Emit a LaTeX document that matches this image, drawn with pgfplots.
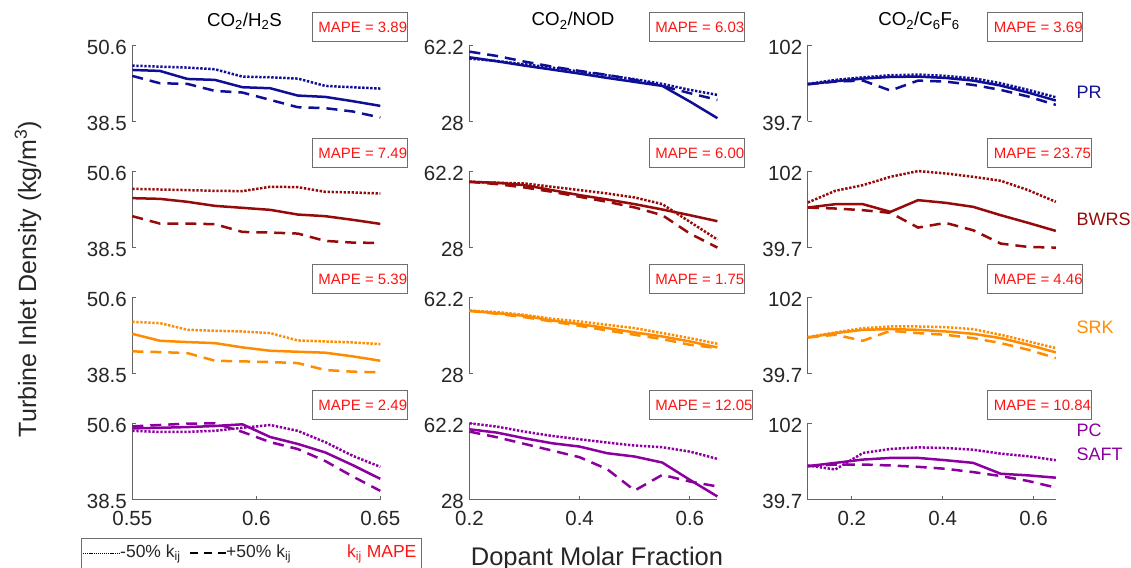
\documentclass[border=0pt]{standalone}
\usepackage{pgfplots}
\pgfplotsset{compat=1.18}
\usepackage{fontspec}
\setmainfont{Liberation Sans}
\definecolor{cPR}{RGB}{15,15,150}
\definecolor{cBW}{RGB}{150,10,10}
\definecolor{cSRK}{RGB}{255,140,0}
\definecolor{cPC}{RGB}{140,0,160}
\definecolor{axgray}{RGB}{100,100,100}
\definecolor{tickgray}{RGB}{38,38,38}
\definecolor{boxgray}{RGB}{110,110,110}
\definecolor{mred}{RGB}{255,20,20}
\pgfplotsset{
 panel/.style={scale only axis, width=248pt, height=76.5pt, anchor=south west, clip=false,
   axis y line*=left, axis line style={draw=axgray, line width=0.8pt},
   tick align=inside, major tick length=4pt, tick style={draw=axgray, line width=0.8pt},
   ticklabel style={font=\fontsize{20.5}{22}\selectfont, text=tickgray},
   yticklabel style={xshift=-2pt, yshift=-2pt}},
 hidex/.style={axis x line=none},
 showx/.style={axis x line*=bottom, xticklabel style={yshift=-8pt}},
 c1/.style={xmin=0.55,xmax=0.65, ymin=38.5,ymax=50.6, ytick={38.5,50.6}, yticklabels={38.5,50.6}, xtick={0.55,0.6,0.65}, xticklabels={0.55,0.6,0.65}},
 c2/.style={xmin=0.2,xmax=0.65, ymin=28,ymax=62.2, ytick={28,62.2}, yticklabels={28,62.2}, xtick={0.2,0.4,0.6}, xticklabels={0.2,0.4,0.6}},
 c3/.style={xmin=0.103,xmax=0.649, ymin=39.7,ymax=102, ytick={39.7,102}, yticklabels={39.7,102}, xtick={0.2,0.4,0.6}, xticklabels={0.2,0.4,0.6}},
 sol/.style={line width=2.5pt, no marks},
 dot/.style={line width=2.5pt, no marks, dash pattern=on 2.4pt off 1.6pt},
 dsh/.style={line width=2.5pt, no marks, dash pattern=on 11pt off 7pt},
}
\newcommand{\mape}[1]{\node[anchor=south west, draw=boxgray, line width=1pt, minimum height=29pt, inner xsep=0pt, inner ysep=0pt, text=mred, font=\fontsize{15}{15}\selectfont] at (rel axis cs:0.724,1.039) {\hspace{6pt}MAPE = #1\hspace{17pt}};}
\begin{document}
\begin{tikzpicture}[x=1pt,y=1pt]
\useasboundingbox (0,0) rectangle (1131,567);
% ---------- Column 1: CO2/H2S ----------
\begin{axis}[panel,c1,hidex,at={(132.3pt,445.5pt)}]
\addplot[cPR,sol] coordinates {(0.55,46.65)(0.5611,46.5)(0.5722,45.23)(0.5833,45.08)(0.5944,43.92)(0.6056,43.76)(0.6167,42.6)(0.6278,42.39)(0.6389,41.71)(0.65,40.97)};
\addplot[cPR,dot] coordinates {(0.55,47.34)(0.5611,47.18)(0.5722,47.03)(0.5833,46.76)(0.5944,45.6)(0.6056,45.5)(0.6167,45.29)(0.6278,44.13)(0.6389,43.92)(0.65,43.71)};
\addplot[cPR,dsh] coordinates {(0.55,45.71)(0.5611,44.55)(0.5722,44.45)(0.5833,43.34)(0.5944,43.08)(0.6056,41.92)(0.6167,40.76)(0.6278,40.61)(0.6389,40.08)(0.65,39.13)};
\mape{3.89}
\end{axis}
\begin{axis}[panel,c1,hidex,at={(132.3pt,319.4pt)}]
\addplot[cBW,sol] coordinates {(0.55,46.32)(0.5611,46.21)(0.5722,45.74)(0.5833,45.1)(0.5944,44.79)(0.6056,44.47)(0.6167,43.73)(0.6278,43.47)(0.6389,42.89)(0.65,42.25)};
\addplot[cBW,dot] coordinates {(0.55,47.8)(0.5611,47.69)(0.5722,47.59)(0.5833,47.48)(0.5944,47.43)(0.6056,48.12)(0.6167,48.06)(0.6278,47.32)(0.6389,47.22)(0.65,47.06)};
\addplot[cBW,dsh] coordinates {(0.55,43.47)(0.5611,42.3)(0.5722,42.3)(0.5833,42.2)(0.5944,40.98)(0.6056,40.88)(0.6167,40.72)(0.6278,39.56)(0.6389,39.29)(0.65,39.24)};
\mape{7.49}
\end{axis}
\begin{axis}[panel,c1,hidex,at={(132.3pt,193.3pt)}]
\addplot[cSRK,sol] coordinates {(0.55,44.81)(0.5611,43.71)(0.5722,43.5)(0.5833,43.34)(0.5944,42.66)(0.6056,42.13)(0.6167,41.97)(0.6278,41.82)(0.6389,41.24)(0.65,40.55)};
\addplot[cSRK,dot] coordinates {(0.55,46.71)(0.5611,46.5)(0.5722,45.45)(0.5833,45.29)(0.5944,45.18)(0.6056,44.92)(0.6167,43.76)(0.6278,43.6)(0.6389,43.45)(0.65,43.18)};
\addplot[cSRK,dsh] coordinates {(0.55,42.03)(0.5611,41.92)(0.5722,41.76)(0.5833,40.55)(0.5944,40.45)(0.6056,40.34)(0.6167,40.18)(0.6278,39.08)(0.6389,38.82)(0.65,38.71)};
\mape{5.39}
\end{axis}
\begin{axis}[panel,c1,showx,at={(132.3pt,67.2pt)}]
\addplot[cPC,sol] coordinates {(0.55,49.79)(0.5611,49.89)(0.5722,50.0)(0.5833,50.17)(0.5944,50.44)(0.6056,48.43)(0.6167,47.34)(0.6278,45.99)(0.6389,43.98)(0.65,41.81)};
\addplot[cPC,dot] coordinates {(0.55,49.41)(0.5611,49.24)(0.5722,49.24)(0.5833,49.41)(0.5944,49.89)(0.6056,50.33)(0.6167,49.41)(0.6278,47.62)(0.6389,45.45)(0.65,43.71)};
\addplot[cPC,dsh] coordinates {(0.55,50.11)(0.5611,50.33)(0.5722,50.55)(0.5833,50.6)(0.5944,49.24)(0.6056,47.62)(0.6167,46.53)(0.6278,44.63)(0.6389,42.19)(0.65,39.91)};
\mape{2.49}
\end{axis}
% ---------- Column 2: CO2/NOD ----------
\begin{axis}[panel,c2,hidex,at={(469.4pt,445.5pt)}]
\addplot[cPR,sol] coordinates {(0.2,56.7)(0.25,54.91)(0.3,52.98)(0.35,51.2)(0.4,49.41)(0.45,47.48)(0.5,45.69)(0.55,43.91)(0.6,36.92)(0.65,29.49)};
\addplot[cPR,dot] coordinates {(0.2,56.1)(0.25,55.06)(0.3,53.58)(0.35,52.09)(0.4,50.3)(0.45,48.67)(0.5,46.88)(0.55,44.8)(0.6,42.13)(0.65,39.9)};
\addplot[cPR,dsh] coordinates {(0.2,59.23)(0.25,57.29)(0.3,54.77)(0.35,52.53)(0.4,50.6)(0.45,48.82)(0.5,46.59)(0.55,43.91)(0.6,40.64)(0.65,37.67)};
\mape{6.03}
\end{axis}
\begin{axis}[panel,c2,hidex,at={(469.4pt,319.4pt)}]
\addplot[cBW,sol] coordinates {(0.2,57.42)(0.25,56.97)(0.3,55.93)(0.35,53.69)(0.4,51.45)(0.45,49.51)(0.5,47.42)(0.55,45.03)(0.6,42.49)(0.65,39.8)};
\addplot[cBW,dot] coordinates {(0.2,57.42)(0.25,56.97)(0.3,56.68)(0.35,55.18)(0.4,53.69)(0.45,52.2)(0.5,50.41)(0.55,47.42)(0.6,39.51)(0.65,31.59)};
\addplot[cBW,dsh] coordinates {(0.2,57.42)(0.25,56.38)(0.3,54.88)(0.35,52.94)(0.4,50.7)(0.45,48.46)(0.5,45.93)(0.55,42.49)(0.6,34.28)(0.65,28.0)};
\mape{6.00}
\end{axis}
\begin{axis}[panel,c2,hidex,at={(469.4pt,193.3pt)}]
\addplot[cSRK,sol] coordinates {(0.2,56.1)(0.25,55.06)(0.3,53.87)(0.35,51.79)(0.4,50.16)(0.45,48.37)(0.5,46.44)(0.55,44.65)(0.6,42.42)(0.65,39.75)};
\addplot[cSRK,dot] coordinates {(0.2,56.25)(0.25,55.51)(0.3,54.32)(0.35,52.53)(0.4,51.35)(0.45,49.86)(0.5,48.37)(0.55,46.14)(0.6,43.91)(0.65,41.38)};
\addplot[cSRK,dsh] coordinates {(0.2,56.1)(0.25,54.77)(0.3,53.28)(0.35,51.35)(0.4,49.41)(0.45,47.33)(0.5,45.4)(0.55,43.46)(0.6,40.94)(0.65,39.45)};
\mape{1.75}
\end{axis}
\begin{axis}[panel,c2,showx,at={(469.4pt,67.2pt)}]
\addplot[cPC,sol] coordinates {(0.2,59.52)(0.25,58.04)(0.3,55.51)(0.35,53.28)(0.4,51.79)(0.45,48.82)(0.5,47.33)(0.55,44.65)(0.6,36.92)(0.65,29.49)};
\addplot[cPC,dot] coordinates {(0.2,62.2)(0.25,60.71)(0.3,58.48)(0.35,56.55)(0.4,55.06)(0.45,53.58)(0.5,52.24)(0.55,51.49)(0.6,49.56)(0.65,46.29)};
\addplot[cPC,dsh] coordinates {(0.2,58.48)(0.25,55.95)(0.3,52.98)(0.35,50.01)(0.4,47.03)(0.45,41.68)(0.5,32.16)(0.55,39.15)(0.6,36.17)(0.65,33.95)};
\mape{12.05}
\end{axis}
% ---------- Column 3: CO2/C6F6 ----------
\begin{axis}[panel,c3,hidex,at={(807.8pt,445.5pt)}]
\addplot[cPR,sol] coordinates {(0.103,70.03)(0.1637,72.47)(0.2243,74.64)(0.285,75.99)(0.3457,76.26)(0.4063,75.18)(0.467,73.01)(0.5277,68.95)(0.5883,63.26)(0.649,56.76)};
\addplot[cPR,dot] coordinates {(0.103,70.3)(0.1637,73.56)(0.2243,75.72)(0.285,77.35)(0.3457,77.89)(0.4063,76.81)(0.467,74.91)(0.5277,70.85)(0.5883,65.43)(0.649,59.47)};
\addplot[cPR,dsh] coordinates {(0.103,70.03)(0.1637,72.2)(0.2243,73.01)(0.285,64.89)(0.3457,73.01)(0.4063,72.2)(0.467,69.49)(0.5277,65.43)(0.5883,60.01)(0.649,53.24)};
\mape{3.69}
\end{axis}
\begin{axis}[panel,c3,hidex,at={(807.8pt,319.4pt)}]
\addplot[cBW,sol] coordinates {(0.103,72.34)(0.1637,75.06)(0.2243,75.06)(0.285,68.8)(0.3457,78.33)(0.4063,76.15)(0.467,72.89)(0.5277,66.08)(0.5883,59.82)(0.649,53.29)};
\addplot[cBW,dot] coordinates {(0.103,76.42)(0.1637,85.95)(0.2243,90.57)(0.285,97.37)(0.3457,102)(0.4063,100.1)(0.467,97.37)(0.5277,94.11)(0.5883,86.49)(0.649,76.97)};
\addplot[cBW,dsh] coordinates {(0.103,72.34)(0.1637,71.52)(0.2243,70.16)(0.285,67.99)(0.3457,56.01)(0.4063,59.82)(0.467,53.84)(0.5277,42.96)(0.5883,40.23)(0.649,39.7)};
\mape{23.75}
\end{axis}
\begin{axis}[panel,c3,hidex,at={(807.8pt,193.3pt)}]
\addplot[cSRK,sol] coordinates {(0.103,69.22)(0.1637,72.74)(0.2243,75.45)(0.285,75.99)(0.3457,75.45)(0.4063,74.1)(0.467,72.2)(0.5277,68.68)(0.5883,63.26)(0.649,57.03)};
\addplot[cSRK,dot] coordinates {(0.103,69.49)(0.1637,73.28)(0.2243,76.81)(0.285,78.16)(0.3457,78.16)(0.4063,77.62)(0.467,75.99)(0.5277,71.39)(0.5883,65.97)(0.649,60.55)};
\addplot[cSRK,dsh] coordinates {(0.103,69.22)(0.1637,71.39)(0.2243,66.51)(0.285,74.64)(0.3457,72.74)(0.4063,71.39)(0.467,68.68)(0.5277,64.62)(0.5883,59.2)(0.649,52.43)};
\mape{4.46}
\end{axis}
\begin{axis}[panel,c3,showx,at={(807.8pt,67.2pt)}]
\addplot[cPC,sol] coordinates {(0.103,67.09)(0.1637,69.78)(0.2243,72.47)(0.285,73.81)(0.3457,73.81)(0.4063,71.93)(0.467,69.78)(0.5277,60.92)(0.5883,59.58)(0.649,57.7)};
\addplot[cPC,dot] coordinates {(0.103,67.63)(0.1637,64.41)(0.2243,77.84)(0.285,81.06)(0.3457,82.4)(0.4063,81.86)(0.467,80.52)(0.5277,77.3)(0.5883,75.15)(0.649,71.93)};
\addplot[cPC,dsh] coordinates {(0.103,67.09)(0.1637,68.44)(0.2243,68.44)(0.285,67.63)(0.3457,66.56)(0.4063,64.95)(0.467,62.26)(0.5277,59.04)(0.5883,55.01)(0.649,49.64)};
\mape{10.84}
\end{axis}
% ---------- titles and labels ----------
\node[anchor=base, font=\fontsize{18.7}{20}\selectfont] at (244.5,540.5) {CO\textsubscript{2}/H\textsubscript{2}S};
\node[anchor=base, font=\fontsize{18.7}{20}\selectfont] at (573,541) {CO\textsubscript{2}/NOD};
\node[anchor=base, font=\fontsize{18.7}{20}\selectfont] at (919,541) {CO\textsubscript{2}/C\textsubscript{6}F\textsubscript{6}};
\node[anchor=base west, text=cPR, font=\fontsize{18}{20}\selectfont] at (1073,468) {PR};
\node[anchor=base west, text=cBW, font=\fontsize{18}{20}\selectfont] at (1073,341.3) {BWRS};
\node[anchor=base west, text=cSRK, font=\fontsize{18}{20}\selectfont] at (1073,233.7) {SRK};
\node[anchor=base west, text=cPC, font=\fontsize{18}{20}\selectfont] at (1073,130.3) {PC};
\node[anchor=base west, text=cPC, font=\fontsize{18}{20}\selectfont] at (1073,106) {SAFT};
\node[anchor=base, rotate=90, text=tickgray, font=\fontsize{25}{27}\selectfont] at (36,288) {Turbine Inlet Density (kg/m\textsuperscript{3})};
\node[anchor=base, text=tickgray, font=\fontsize{25.5}{27}\selectfont] at (597,2) {Dopant Molar Fraction};
% legend box
\draw[draw=boxgray, line width=1pt] (81,-5) rectangle (421.7,28.7);
\draw[black, line width=1.6pt, dash pattern=on 1.2pt off 0.9pt] (83,13.7) -- (120,13.7);
\node[anchor=base west, inner sep=0pt, text=tickgray, font=\fontsize{17.5}{18}\selectfont] at (120,9.3) {-50\% k\textsubscript{ij}};
\draw[black, line width=2pt, dash pattern=on 8pt off 6pt] (190,13.7) -- (226,13.7);
\node[anchor=base west, inner sep=0pt, text=tickgray, font=\fontsize{17.5}{18}\selectfont] at (226,9.3) {+50\% k\textsubscript{ij}};
\node[anchor=base west, inner sep=0pt, text=mred, font=\fontsize{17.5}{18}\selectfont] at (347,9.3) {k\textsubscript{ij} MAPE};
\end{tikzpicture}
\end{document}
